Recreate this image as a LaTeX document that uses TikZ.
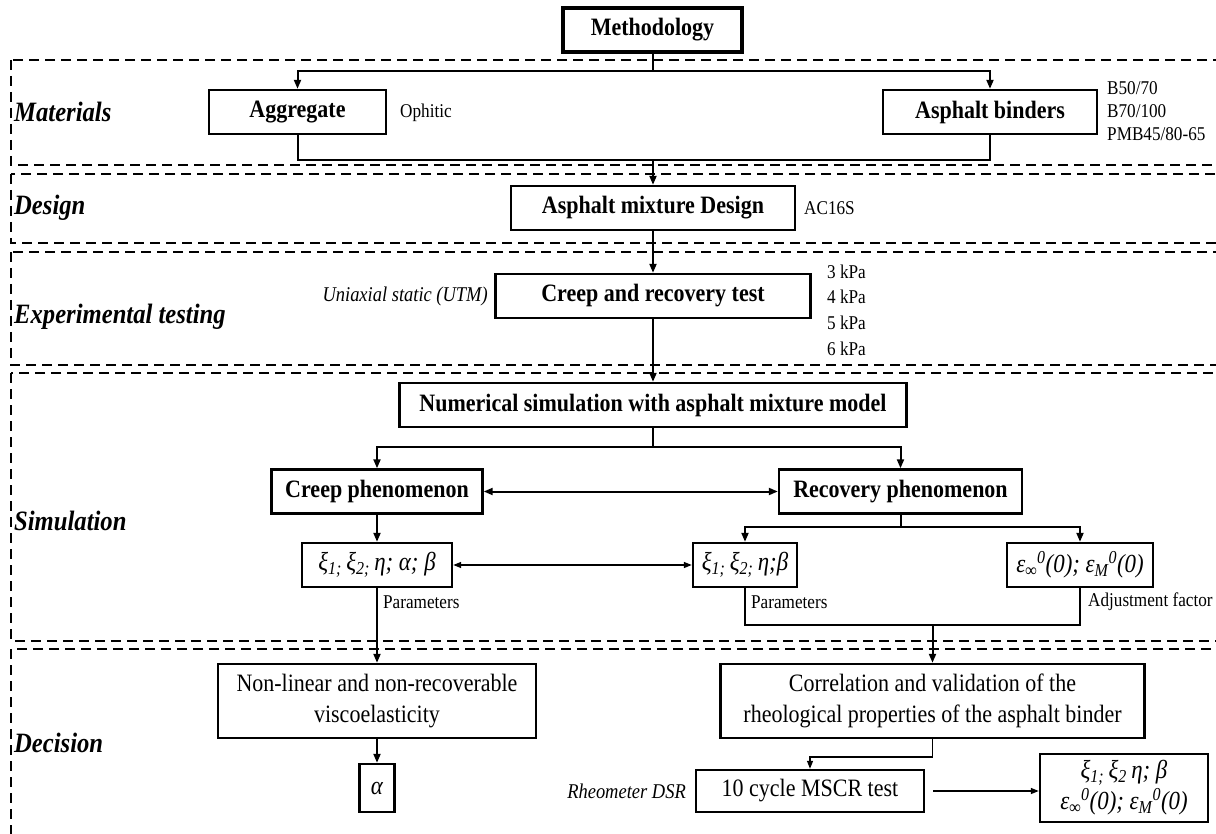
\documentclass[tikz,border=0pt]{standalone}
\usepackage{fontspec}
\setmainfont{Liberation Serif}[FakeStretch=0.88]
\usetikzlibrary{arrows.meta}
\newcommand\sbs[1]{\textsubscript{#1}}
\newcommand\sps[1]{\textsuperscript{#1}}
\begin{document}
\begin{tikzpicture}[x=1pt,y=-1pt,
  box/.style={draw, line width=2.4pt, inner sep=0pt, minimum height=44pt, align=center},
  bx/.style={font=\bfseries\fontsize{25}{29}\selectfont},
  rx/.style={font=\fontsize{25}{31}\selectfont},
  gx/.style={font=\itshape\fontsize{26}{31}\selectfont},
  lbl/.style={font=\fontsize{19.5}{23}\selectfont, inner sep=0pt, anchor=west},
  ilbl/.style={font=\itshape\fontsize{21}{24}\selectfont, inner sep=0pt, anchor=east},
  sec/.style={font=\bfseries\itshape\fontsize{28}{32}\selectfont, inner sep=0pt, anchor=west},
  dsec/.style={draw, line width=1.3pt, dash pattern=on 10pt off 6pt},
  conn/.style={line width=2pt},
  thinc/.style={line width=1.3pt},
  arr/.style={-{Triangle[length=9pt,width=7pt]}},
  arrs/.style={-{Triangle[length=8pt,width=6pt]}},
  biarr/.style={{Triangle[length=9pt,width=7pt]}-{Triangle[length=9pt,width=7pt]}},
  biarrs/.style={{Triangle[length=8pt,width=6pt]}-{Triangle[length=8pt,width=6pt]}}
]
\useasboundingbox (0,0) rectangle (1216,834);
\fill[white] (0,0) rectangle (1216,834);
\clip (0,0) rectangle (1216,834);

% dashed sections
\path[dsec] (11,60) rectangle (1232,165);
\path[dsec] (11,174) rectangle (1232,243);
\path[dsec] (11,252) rectangle (1232,365);
\path[dsec] (11,373) rectangle (1232,641);
\path[dsec] (11,649) rectangle (1232,860);

% section labels
\node[sec] (lmat) at (14,112) {Materials};
\node[sec] (ldes) at (14,208) {Design};
\node[sec] (lexp) at (14,317) {Experimental testing};
\node[sec] (lsim) at (14,521) {Simulation};
\node[sec] (ldec) at (14,743) {Decision};

% nodes
\node[box, bx, line width=3.2pt, minimum width=179pt] (meth) at (652.5,30) {Methodology};
\node[box, bx, minimum width=177pt] (agg) at (297.5,112) {Aggregate};
\node[box, bx, minimum width=214pt] (bind) at (990,112) {Asphalt binders};
\node[lbl] (oph) at (400,113) {Ophitic};
\node[lbl] (b1) at (1107,88) {B50/70};
\node[lbl] (b2) at (1107,111) {B70/100};
\node[lbl] (b3) at (1107,134) {PMB45/80-65};

\node[box, bx, minimum width=284pt] (des) at (653,208) {Asphalt mixture Design};
\node[lbl] (ac) at (804,208) {AC16S};

\node[box, bx, minimum width=315pt] (crt) at (653,296) {Creep and recovery test};
\node[ilbl] (utm) at (488,296) {Uniaxial static (UTM)};
\node[lbl] (k3) at (827,272) {3 kPa};
\node[lbl] (k4) at (827,297) {4 kPa};
\node[lbl] (k5) at (827,323) {5 kPa};
\node[lbl] (k6) at (827,349) {6 kPa};

\node[box, bx, minimum width=507pt] (num) at (653,405) {Numerical simulation with asphalt mixture model};
\node[box, bx, minimum width=211pt] (cph) at (377,491.5) {Creep phenomenon};
\node[box, bx, minimum width=243pt] (rph) at (900.5,491.5) {Recovery phenomenon};

\node[box, gx, minimum width=150pt] (p1) at (377,565) {ξ\sbs{1;}\,ξ\sbs{2;}\,η; α; β};
\node[box, gx, minimum width=104pt] (p2) at (745,565) {ξ\sbs{1;}\,ξ\sbs{2;}\,η;β};
\node[box, gx, minimum width=146pt] (p3) at (1080,565) {ε\sbs{∞}\sps{0}(0); ε\sbs{M}\sps{0}(0)};
\node[lbl] (par1) at (383,602) {Parameters};
\node[lbl] (par2) at (751,602) {Parameters};
\node[lbl] (adjf) at (1088,602) {Adjustment factor};

\node[box, rx, minimum width=318pt, minimum height=74pt] (nl) at (377,701) {Non-linear and non-recoverable\\viscoelasticity};
\node[box, rx, minimum width=424pt, minimum height=74pt] (cor) at (932.5,701) {Correlation and validation of the\\rheological properties of the asphalt binder};
\node[box, gx, minimum width=35pt, minimum height=48pt] (al) at (377,788) {α};
\node[box, rx, minimum width=228pt, minimum height=42pt] (ms) at (810,791) {10 cycle MSCR test};
\node[ilbl] (rh) at (686,791) {Rheometer DSR};
\node[box, gx, minimum width=168pt, minimum height=68pt] (fin) at (1124,788) {ξ\sbs{1;}\,ξ\sbs{2}\,η; β\\ε\sbs{∞}\sps{0}(0); ε\sbs{M}\sps{0}(0)};

% connectors
\coordinate (j1) at (652.5,71);
\draw[conn] (meth.south) -- (j1);
\draw[conn,arr] (j1) -| (agg.north);
\draw[conn,arr] (j1) -| (bind.north);
\coordinate (j2) at (653,160);
\draw[conn] (agg.south) |- (j2);
\draw[conn] (bind.south) |- (j2);
\draw[conn,arr] (j2) -- (des.north);
\draw[conn,arr] (des.south) -- (crt.north);
\draw[conn,arr] (crt.south) -- (num.north);
\coordinate (j3) at (653,447);
\draw[conn] (num.south) -- (j3);
\draw[conn,arr] (j3) -| (cph.north);
\draw[conn,arr] (j3) -| (rph.north);
\draw[conn,biarr] (cph.east) -- (rph.west);
\draw[conn,arr] (cph.south) -- (p1.north);
\coordinate (j4) at (900.5,527);
\draw[conn] (rph.south) -- (j4);
\draw[conn,arr] (j4) -| (p2.north);
\draw[conn,arr] (j4) -| (p3.north);
\draw[thinc,biarrs] (p1.east) -- (p2.west);
\coordinate (j5) at (932.5,625);
\draw[conn] (p2.south) |- (j5);
\draw[conn] (p3.south) |- (j5);
\draw[conn,arr] (j5) -- (cor.north);
\draw[conn,arr] (p1.south) -- (nl.north);
\draw[conn,arr] (nl.south) -- (al.north);
\coordinate (j6) at (932.5,757);
\draw[thinc] (cor.south) -- (j6);
\draw[thinc,arrs] (j6) -| (ms.north);
\draw[thinc,arrs,shorten <=8pt] (ms.east) -- (ms.east -| fin.west);
\end{tikzpicture}
\end{document}
